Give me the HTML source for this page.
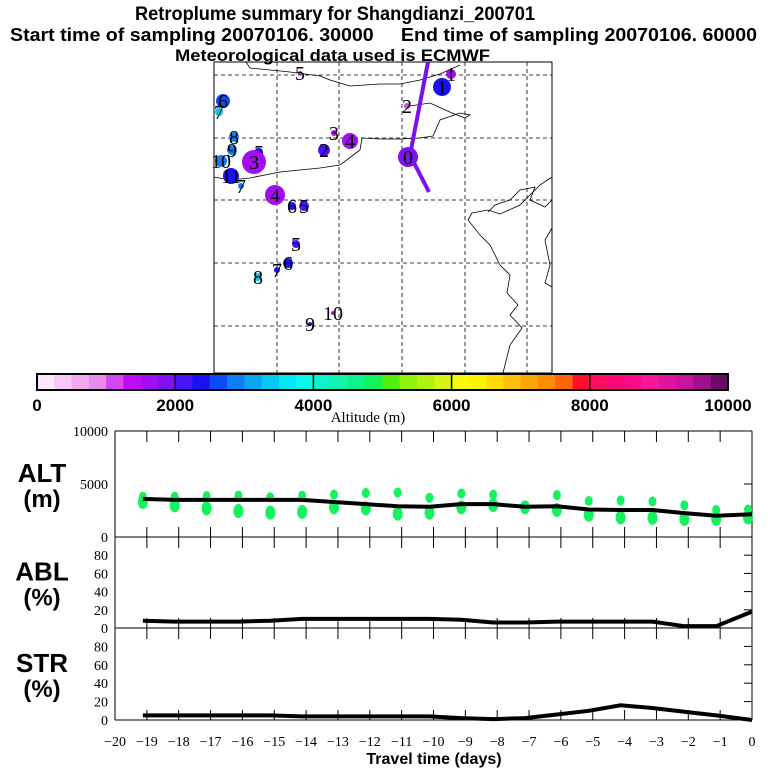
<!DOCTYPE html>
<html><head><meta charset="utf-8"><style>
body{margin:0;background:#fff}
svg{display:block}
.b{font-family:"Liberation Sans",sans-serif;font-weight:bold}
.s{font-family:"Liberation Serif",serif}
</style></head><body>
<svg id="c" width="768" height="768" viewBox="0 0 768 768" xmlns="http://www.w3.org/2000/svg">
<rect width="768" height="768" fill="#fff"/>
<text class="b" x="135" y="20" font-size="19" textLength="400" lengthAdjust="spacingAndGlyphs">Retroplume summary for Shangdianzi_200701</text>
<text class="b" x="10" y="41" font-size="18" textLength="747" lengthAdjust="spacingAndGlyphs" xml:space="preserve">Start time of sampling 20070106. 30000     End time of sampling 20070106. 60000</text>
<text class="b" x="175" y="61" font-size="17" textLength="315" lengthAdjust="spacingAndGlyphs">Meteorological data used is ECMWF</text>
<g id="map">
<rect x="214" y="62" width="338" height="311" fill="none" stroke="#000" stroke-width="1"/>
<g id="grid" stroke="#000" stroke-dasharray="4,3" stroke-width="0.8">
<line x1="277" y1="62" x2="277" y2="373"/><line x1="339" y1="62" x2="339" y2="373"/><line x1="402" y1="62" x2="402" y2="373"/><line x1="465" y1="62" x2="465" y2="373"/><line x1="527" y1="62" x2="527" y2="373"/>
<line x1="214" y1="75" x2="552" y2="75"/><line x1="214" y1="138" x2="552" y2="138"/><line x1="214" y1="200" x2="552" y2="200"/><line x1="214" y1="263" x2="552" y2="263"/><line x1="214" y1="326" x2="552" y2="326"/>
</g>
<g fill="none" stroke="#000" stroke-width="0.8">
<path d="M246,62 L250,68 L290,72 L320,76 L330,80 L350,86 L380,84 L400,84 L420,80 L440,74 L460,65"/>
<path d="M214,177 L230,180 L250,178 L280,172 L320,168 L340,165 L360,150 L362,138 L380,139 L400,139 L420,138 L433,136 L440,120 L460,113 L470,115 L465,118 L452,113 L430,103 L410,106"/>
<path d="M552,177 L540,185 L520,205 L500,214 L488,210 L472,213 L468,220 L480,235 L490,245 L500,265 L510,275 L507,293 L518,305 L510,315 L522,328 L510,345 L505,365 L503,373"/>
<path d="M488,212 L495,205 L510,200 L520,190 L535,187 L530,200 L545,207 L552,200"/>
<path d="M552,228 L545,240 L550,265 L545,283 L552,287"/>
</g>
<line x1="428" y1="62" x2="410" y2="155" stroke="#7a10f2" stroke-width="4"/>
<line x1="410" y1="155" x2="429" y2="192" stroke="#7a10f2" stroke-width="4"/>
<g id="markers"></g>
</g>
<g id="cbar"></g>
<text class="s" x="368" y="422" font-size="15" text-anchor="middle">Altitude (m)</text>
<g id="panels"></g>
<text class="b" x="434" y="764" font-size="16" text-anchor="middle">Travel time (days)</text>
</svg>
<script>
const NS='http://www.w3.org/2000/svg';
function mk(t,a,p){const e=document.createElementNS(NS,t);for(const k in a)e.setAttribute(k,a[k]);(p||document.getElementById('c')).appendChild(e);return e;}
// colorbar data
const cbColors=['#fde8fb','#f9c8f6','#f2aaf0','#e78bec','#d545f0','#c10bf5','#a40cf5','#8012f2','#4a12f7','#1a10f5','#0b4cf7','#0d7ef6','#08a6f3','#05c8f5','#07e8f5','#0af7ee','#0af5cc','#12f5aa','#0cf58a','#12f45c','#52f10d','#8ef50e','#b0f312','#d4f412','#f6f90b','#fff304','#fedc07','#fec107','#fda706','#fd8c05','#fd6405','#fe0f2c','#fe0e5f','#fe0a78','#fe0a8a','#f81896','#e013a0','#c812a0','#a0108d','#6c0a68'];
const cbTicks=[0,2000,4000,6000,8000,10000];
// map markers: [x,y,r,colorIndex,label]
const mapMarkers=[[300,73,2,5,'5'],[451,74,5,6,'1'],[442,87,9,9,'1'],[407,106,3,4,'2'],[223,101,7,10,'6'],[219,112,4,13,'7'],[234,137,5,11,'8'],[232,150,5,11,'9'],[221,161,6,11,'10'],[231,176,8,9,'11'],[241,186,3,11,'7'],[259,152,4,9,'5'],[254,162,12,6,'3'],[275,195,10,6,'4'],[292,206,4,9,'6'],[304,206,5,8,'5'],[334,133,3,5,'3'],[324,150,6,8,'2'],[350,141,8,6,'4'],[408,157,10,7,'0'],[296,244,4,8,'5'],[288,263,5,9,'6'],[277,270,3,9,'7'],[258,277,4,13,'8'],[310,324,2,9,'9'],[333,313,2,5,'10']];
// time-series data
const days=[-19,-18,-17,-16,-15,-14,-13,-12,-11,-10,-9,-8,-7,-6,-5,-4,-3,-2,-1,0];
const altMean=[3600,3500,3500,3500,3500,3500,3300,3100,2900,2850,3100,3100,2850,2900,2600,2550,2550,2250,2000,2150];
const altDotsTop=[3800,3800,3870,3900,3750,3900,4000,4150,4200,3700,4100,4000,2800,3950,3400,3450,3350,3000,2550,2600];
const altDotsBot=[3300,2980,2700,2450,2300,2370,2800,2700,2200,2300,2800,3000,2800,2550,2100,1850,1800,1700,1700,1850];
const ablVals=[8,7,7,7,8,10,10,10,10,10,9,6,6,7,7,7,7,2,2,18];
const strVals=[5,5,5,5,5,4,4,4,4,4,2,1,2,6,10,16,13,9,5,0];
const xTickLabels=['−20','−19','−18','−17','−16','−15','−14','−13','−12','−11','−10','−9','−8','−7','−6','−5','−4','−3','−2','−1','0'];
const altTicks=[0,5000,10000];
const pctTicks=[0,20,40,60,80];

const cb=document.getElementById('cbar');
const cbX=a=>37+a/10000*691;
cbColors.forEach((col,i)=>{const r=mk('rect',{x:cbX(i*250),y:374,width:691/40+0.5,height:16,fill:col},cb);

});
mk('rect',{x:37,y:374,width:691,height:16,fill:'none',stroke:'#000','stroke-width':2},cb);
cbTicks.forEach(v=>{const l=mk('line',{x1:cbX(v),y1:374,x2:cbX(v),y2:390,stroke:'#000','stroke-width':1.5},cb);


const t=mk('text',{x:cbX(v),y:411,'font-size':17,'text-anchor':'middle',class:'b'},cb);t.textContent=v;

});

const mg=document.getElementById('markers');
mapMarkers.forEach(m=>{const c=mk('circle',{cx:m[0],cy:m[1],r:m[2],fill:cbColors[m[3]]},mg);


const t=mk('text',{x:m[0],y:m[1]+7,'font-size':20,'text-anchor':'middle',class:'s'},mg);t.textContent=m[4];

});

const pg=document.getElementById('panels');
const X=t=>115+(t+20)*31.85;
const off=0.125;
const panels=[{top:431,bot:537,max:10000,ticks:altTicks,name:'ALT',unit:'(m)'},{top:537,bot:628,max:100,ticks:pctTicks,name:'ABL',unit:'(%)'},{top:628,bot:720,max:100,ticks:pctTicks,name:'STR',unit:'(%)'}];
const Y=(p,v)=>p.bot-v/p.max*(p.bot-p.top);
mk('line',{x1:115,y1:431,x2:752,y2:431,stroke:'#000'},pg);
mk('line',{x1:115,y1:431,x2:115,y2:720,stroke:'#000'},pg);
mk('line',{x1:752,y1:431,x2:752,y2:720,stroke:'#000'},pg);
panels.forEach(p=>{
 mk('line',{x1:115,y1:p.bot,x2:752,y2:p.bot,stroke:'#000'},pg);
 for(let d=-19;d<=-1;d++){mk('line',{x1:X(d),y1:p.top,x2:X(d),y2:p.top+11,stroke:'#000'},pg);mk('line',{x1:X(d),y1:p.bot,x2:X(d),y2:p.bot-10,stroke:'#000'},pg);}
 p.ticks.forEach(v=>{const t=mk('text',{x:108,y:Y(p,v)+5,'font-size':14,'text-anchor':'end',class:'s'},pg);t.textContent=v;
 
 
 if(v>0&&v<p.max)mk('line',{x1:744,y1:Y(p,v),x2:752,y2:Y(p,v),stroke:'#000'},pg);});
 const a=mk('text',{x:42,y:(p.top+p.bot)/2-2,'font-size':26,'text-anchor':'middle',class:'b'},pg);a.textContent=p.name;
 
 
 const u=mk('text',{x:42,y:(p.top+p.bot)/2+23,'font-size':24,'text-anchor':'middle',class:'b'},pg);u.textContent=p.unit;
 
 
});
// green dots
days.forEach((d,i)=>{[altDotsTop[i],altDotsBot[i]].forEach((v,j)=>{const e=mk('ellipse',{cx:X(d-off),cy:Y(panels[0],v),rx:j?5:4,ry:j?7:5,fill:'#12f45c'},pg);

});});
function line(vals,p,nm){const pts=days.map((d,i)=>X(d-off*(d<0?1:0))+','+Y(p,vals[i])).join(' ');
const l=mk('polyline',{points:pts,fill:'none',stroke:'#000','stroke-width':4},pg);

}
line(altMean,panels[0],'alt-line');
line(ablVals,panels[1],'abl-line');
line(strVals,panels[2],'str-line');
xTickLabels.forEach((s,i)=>{const t=mk('text',{x:X(i-20),y:746,'font-size':14,'text-anchor':'middle',class:'s'},pg);t.textContent=s;

});
</script>
</body></html>
